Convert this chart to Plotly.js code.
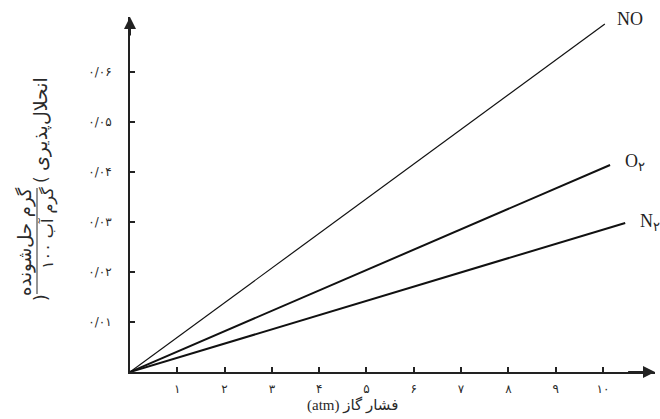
<!DOCTYPE html>
<html>
<head>
<meta charset="utf-8">
<script src="https://cdn.plot.ly/plotly-3.0.1.min.js"></script>
<style>body{margin:0;background:#fff;} #chart{width:660px;height:419px;}</style>
</head>
<body>
<div id="chart"></div>
<script>
// Data
const gases = ['NO', 'O', 'N'];
const gasSubscripts = ['', '۲', '۲'];
const pressureEnd = [10.04, 10.15, 10.47];      // atm, where each line ends
const solubilityEnd = [0.0696, 0.0414, 0.0298]; // g / 100 g water at line end
const lineWidths = [1.2, 2, 2];
const xTickVals = [1, 2, 3, 4, 5, 6, 7, 8, 9, 10];
const xTickText = ['۱', '۲', '۳', '۴', '۵', '۶', '۷', '۸', '۹', '۱۰'];
const yTickVals = [0.01, 0.02, 0.03, 0.04, 0.05, 0.06];
const yTickText = ['۰/۰۱', '۰/۰۲', '۰/۰۳', '۰/۰۴', '۰/۰۵', '۰/۰۶'];

const xMax = 11.1, yMax = 0.071;
const W = 660, H = 419, mL = 130, mR = 5, mT = 17, mB = 47;
const pw = W - mL - mR, ph = H - mT - mB;
const px = v => (v - mL) / pw;
const py = v => (H - mB - v) / ph;

const traces = gases.map((g, i) => ({
  type: 'scatter', mode: 'lines',
  x: [0, pressureEnd[i]], y: [0, solubilityEnd[i]],
  line: {color: '#111', width: lineWidths[i]},
  hoverinfo: 'skip', showlegend: false
}));

const serif = 'Liberation Serif, DejaVu Serif, serif';
const txt = '#2a2a2a';
const annotations = [];
const labelShift = [[10, 5], [13, 3], [13, 1]];
gases.forEach((g, i) => {
  const label = gasSubscripts[i] ? g + '<sub>' + gasSubscripts[i] + '</sub>' : g;
  annotations.push({
    xref: 'x', yref: 'y', x: pressureEnd[i], y: solubilityEnd[i],
    text: label, showarrow: false, xanchor: 'left', yanchor: 'middle',
    xshift: labelShift[i][0], yshift: labelShift[i][1],
    font: {family: serif, size: 18, color: '#222'}
  });
});
// axis arrows
annotations.push({xref: 'x', yref: 'y', axref: 'x', ayref: 'y', x: xMax, y: 0, ax: xMax - 0.6, ay: 0,
  showarrow: true, arrowhead: 2, arrowsize: 1.2, arrowwidth: 2, arrowcolor: '#222', text: ''});
annotations.push({xref: 'x', yref: 'y', axref: 'x', ayref: 'y', x: 0, y: yMax, ax: 0, ay: yMax - 0.004,
  showarrow: true, arrowhead: 2, arrowsize: 1.2, arrowwidth: 2, arrowcolor: '#222', text: ''});
// x-axis title
annotations.push({xref: 'paper', yref: 'paper', x: px(352), y: py(405), xanchor: 'center', yanchor: 'middle',
  text: '\u202Bفشار گاز (atm)\u202C',
  showarrow: false, font: {family: 'Liberation Serif, DejaVu Sans', size: 15, color: txt}});
// y-axis title parts
const yfont = {family: 'DejaVu Sans', size: 19, color: txt};
const yPart = (x, y, text, size) => ({xref: 'paper', yref: 'paper', x: px(x), y: py(y), xanchor: 'center', yanchor: 'middle',
  text: text, textangle: -90, showarrow: false, font: Object.assign({}, yfont, size ? {size: size} : {})});
annotations.push(yPart(40, 124, 'انحلال‌پذیری'));
annotations.push(yPart(41, 180, '(', 17));
annotations.push(yPart(25, 242, 'گرم حل‌شونده', 18));
annotations.push(yPart(48, 228, '۱۰۰ گرم آب', 16));
annotations.push(yPart(41, 298, ')', 17));

const shapes = [{type: 'line', xref: 'paper', yref: 'paper', x0: px(37), x1: px(37), y0: py(188), y1: py(294),
  line: {color: txt, width: 1}}];

const layout = {
  width: W, height: H,
  margin: {l: mL, r: mR, t: mT, b: mB},
  paper_bgcolor: '#fff', plot_bgcolor: '#fff',
  showlegend: false,
  xaxis: {range: [0, xMax], showgrid: false, zeroline: false, showline: true, linewidth: 2, linecolor: '#222',
    ticks: 'inside', ticklen: 5, tickwidth: 2, tickcolor: '#222',
    tickvals: xTickVals, ticktext: xTickText, ticklabelstandoff: 5,
    tickfont: {family: 'DejaVu Sans', size: 12, color: txt}},
  yaxis: {range: [0, yMax], showgrid: false, zeroline: false, showline: true, linewidth: 2, linecolor: '#222',
    ticks: 'inside', ticklen: 5, tickwidth: 2, tickcolor: '#222',
    tickvals: yTickVals, ticktext: yTickText, ticklabelstandoff: 14,
    tickfont: {family: 'DejaVu Sans', size: 12, color: txt}},
  annotations: annotations,
  shapes: shapes
};

Plotly.newPlot('chart', traces, layout, {staticPlot: true, displayModeBar: false});
</script>
</body>
</html>
